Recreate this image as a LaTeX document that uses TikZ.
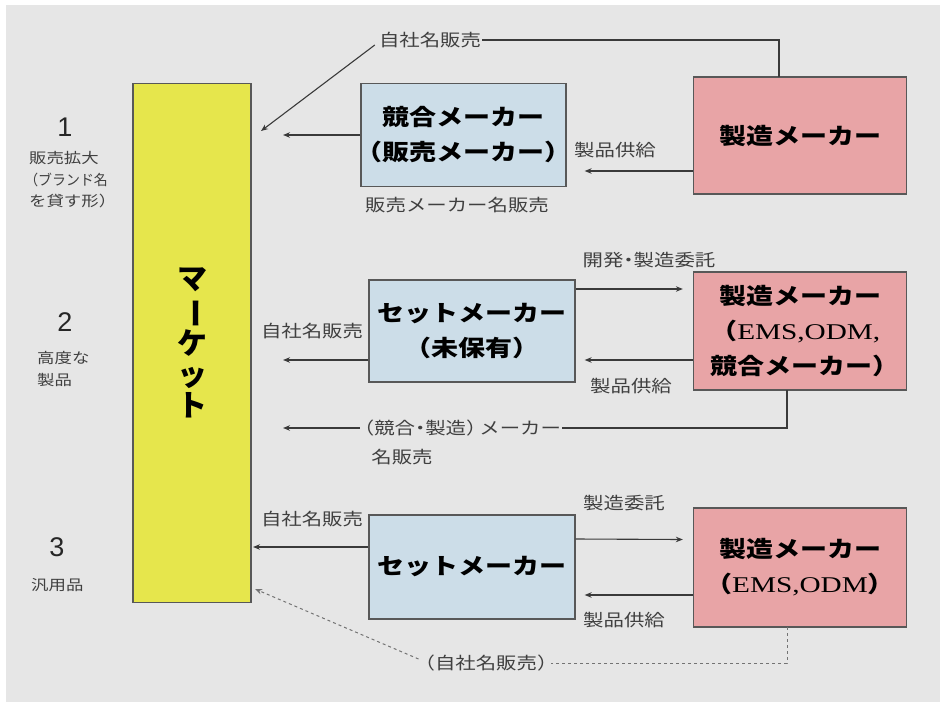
\documentclass[tikz,border=0pt]{standalone}
\usepackage{fontspec}
\setmainfont{Noto Sans CJK JP}
\newfontfamily\jp{Noto Sans CJK JP}[FakeStretch=1.2]
\newfontfamily\jpv{Noto Sans CJK JP}
\newfontfamily\latf{Liberation Serif}[FakeStretch=1.3]
\newfontfamily\nmf{Liberation Sans}
\usetikzlibrary{arrows.meta,calc}
\definecolor{bgc}{HTML}{E6E6E6}
\definecolor{mkt}{HTML}{E6E64C}
\definecolor{blu}{HTML}{CCDDE8}
\definecolor{pnk}{HTML}{E8A4A6}
\definecolor{lnc}{HTML}{3A3A3A}
\newcommand{\boxfont}{\jp\bfseries\fontsize{22.5}{35}\selectfont}
\newcommand{\lblfont}{\jp\fontsize{17}{21}\selectfont}
\newcommand{\sidefont}{\jp\fontsize{14.5}{21.5}\selectfont}
\newcommand{\numfont}{\nmf\fontsize{27}{27}\selectfont}
\newcommand{\mktfont}{\jpv\bfseries\fontsize{30}{31}\selectfont}
\newcommand{\lp}{\kern-0.42em（}
\newcommand{\rp}{）\kern-0.42em}
\newcommand{\nakaguro}{\kern-0.3em・\kern-0.3em}
\begin{document}
\begin{tikzpicture}[x=1pt,y=-1pt,
  bbox/.style={draw=lnc!85,line width=1.3pt,fill=blu,inner sep=0pt,align=center,font=\boxfont},
  pbox/.style={draw=lnc!85,line width=1.3pt,fill=pnk,inner sep=0pt,align=center,font=\boxfont},
  lbl/.style={font=\lblfont,text=black!75,inner sep=1pt},
  side/.style={font=\sidefont,text=black!75,inner sep=0pt,align=left},
  num/.style={font=\numfont,text=black!85,inner sep=0pt},
  conn/.style={draw=lnc,line width=1.1pt},
  arr/.style={conn,-{Stealth[length=7pt,width=5.5pt]}},
  dsh/.style={draw=black!55,line width=1pt,dash pattern=on 3pt off 3pt}]
\useasboundingbox (0,0) rectangle (945,707);
\fill[white] (0,0) rectangle (945,707);
\fill[bgc] (6,5) rectangle (940,702);

% market
\node[draw=lnc!85,line width=1.3pt,fill=mkt,minimum width=118,minimum height=519,inner sep=0pt,align=center,font=\mktfont] (market) at (192,343)
  {マ\\\rotatebox[origin=c]{-90}{ー}\\ケ\\ッ\\ト};

% boxes
\node[pbox,minimum width=213,minimum height=117] (mfg1) at (800,135.5) {製造メーカー};
\node[bbox,minimum width=205,minimum height=103] (comp) at (463.5,135) {競合メーカー\\\lp 販売メーカー\rp};
\node[bbox,minimum width=206,minimum height=102] (set2) at (472,331) {セットメーカー\\\lp 未保有\rp};
\node[pbox,minimum width=213,minimum height=118] (mfg2) at (800,331) {製造メーカー\\\lp{\latf\mdseries EMS,ODM,}\\競合メーカー\rp};
\node[bbox,minimum width=206,minimum height=104] (set3) at (472,567) {セットメーカー};
\node[pbox,minimum width=213,minimum height=119] (mfg3) at (800,567.5) {製造メーカー\\\lp{\latf\mdseries EMS,ODM}\rp};

% free ends at the market side
\coordinate (mkA) at (261,131);
\coordinate (mk1) at (283,133);
\coordinate (mk2) at (283,360);
\coordinate (mk3) at (283,428);
\coordinate (mk4) at (253,547);
\coordinate (mk5) at (255,589);
\coordinate (r1) at (779,77);
\coordinate (r2) at (787,390);
\coordinate (r3) at (787,627);

% row 1
\node[lbl] (l1) at (430,40) {自社名販売};
\draw[conn] (r1) |- (l1.east);
\draw[arr] ($(l1.west)+(-3,5)$) -- (mkA);
\draw[arr] (comp.west) -- (comp.west -| mk1);
\draw[arr] ([yshift=-35.5pt]mfg1.west) -- ([yshift=-36pt,xshift=18pt]comp.east);
\node[lbl] (l2) at (615,150) {製品供給};
\node[lbl] (l3) at (457,205) {販売メーカー名販売};

% row 2
\node[lbl] (l4) at (649,260) {開発\nakaguro 製造委託};
\draw[arr] ([yshift=42pt]set2.east) -- ([yshift=42pt,xshift=-10pt]mfg2.west);
\draw[arr] ([yshift=-29pt]mfg2.west) -- ([yshift=-29pt,xshift=9pt]set2.east);
\node[lbl] (l5) at (631,386) {製品供給};
\node[lbl] (l6) at (312,331) {自社名販売};
\draw[arr] ([yshift=-29pt]set2.west) -- ([yshift=-29pt]set2.west -| mk2);
\node[lbl] (l7) at (461,428) {\lp 競合\nakaguro 製造\rp メーカー};
\node[lbl] (l7b) at (402,457) {名販売};
\draw[conn] (r2) |- (l7.east);
\draw[arr] (l7.west) -- (mk3);

% row 3
\node[lbl] (l8) at (624,503) {製造委託};
\draw[arr] ([yshift=28pt]set3.east) -- ([yshift=28pt,xshift=-10pt]mfg3.west);
\draw[arr] ([yshift=-27.5pt]mfg3.west) -- ([yshift=-28pt,xshift=9pt]set3.east);
\node[lbl] (l9) at (624,620) {製品供給};
\node[lbl] (l10) at (312,519) {自社名販売};
\draw[arr] ([yshift=20pt]set3.west) -- (mk4);
\node[lbl] (l11) at (486,663) {\lp 自社名販売\rp};
\draw[dsh] (r3) |- (l11.east);
\draw[dsh,-{Stealth[length=7pt,width=5.5pt]}] ($(l11.west)+(-2,-4)$) -- (mk5);

% side labels
\node[num] (n1) at (65,127) {1};
\node[side,anchor=west] (s1) at (29,180) {販売拡大\\\scalebox{0.8}[1]{\lp ブランド名}\\を貸す形\rp};
\node[num] (n2) at (65,322) {2};
\node[side,anchor=west] (s2) at (37,369) {高度な\\製品};
\node[num] (n3) at (57,547) {3};
\node[side,anchor=west] (s3) at (31,585) {汎用品};
\end{tikzpicture}
\end{document}
